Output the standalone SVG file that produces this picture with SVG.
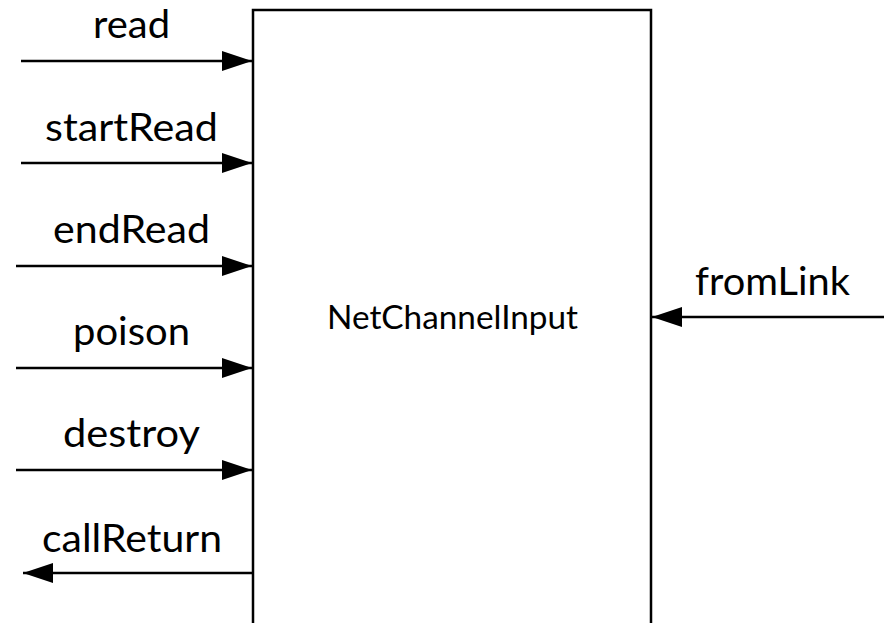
<svg xmlns="http://www.w3.org/2000/svg" width="889" height="623" viewBox="0 0 889 623">
  <defs>
    <marker id="arrow" viewBox="0 0 30 20" refX="30" refY="10" markerWidth="30" markerHeight="20" markerUnits="userSpaceOnUse" orient="auto">
      <path d="M0,0 L30,10 L0,20 Z" fill="#000"/>
    </marker>
  </defs>
  <style>
    .lbl { font-family: Lato, "Open Sans", sans-serif; font-size: 39px; fill: #000; }
    .name { font-family: Lato, "Open Sans", sans-serif; font-size: 32px; fill: #000; }
    .wire { stroke: #000; stroke-width: 2.5; fill: none; marker-end: url(#arrow); }
  </style>
  <rect width="889" height="623" fill="#fff"/>

  <!-- the channel component -->
  <g id="net-channel-input">
    <path d="M253,625 L253,10 L651,10 L651,625" fill="none" stroke="#000" stroke-width="2.5"/>
    <text class="name" x="327" y="329" textLength="251" lengthAdjust="spacingAndGlyphs">NetChannelInput</text>
  </g>

  <!-- port labels -->
  <g id="port-read"><text class="lbl" x="93" y="38" textLength="77" lengthAdjust="spacingAndGlyphs">read</text></g>
  <g id="port-startRead"><text class="lbl" x="45" y="141" textLength="173" lengthAdjust="spacingAndGlyphs">startRead</text></g>
  <g id="port-endRead"><text class="lbl" x="53" y="243" textLength="157" lengthAdjust="spacingAndGlyphs">endRead</text></g>
  <g id="port-poison"><text class="lbl" x="73" y="345" textLength="117" lengthAdjust="spacingAndGlyphs">poison</text></g>
  <g id="port-destroy"><text class="lbl" x="63" y="447" textLength="137" lengthAdjust="spacingAndGlyphs">destroy</text></g>
  <g id="port-callReturn"><text class="lbl" x="42" y="552" textLength="180" lengthAdjust="spacingAndGlyphs">callReturn</text></g>
  <g id="port-fromLink"><text class="lbl" x="695" y="295" textLength="155" lengthAdjust="spacingAndGlyphs">fromLink</text></g>

  <!-- signal wires -->
  <g id="connectors">
    <line class="wire" x1="21" y1="61" x2="252" y2="61"/>
    <line class="wire" x1="21" y1="163" x2="252" y2="163"/>
    <line class="wire" x1="16" y1="266" x2="252" y2="266"/>
    <line class="wire" x1="16" y1="368" x2="252" y2="368"/>
    <line class="wire" x1="16" y1="470" x2="252" y2="470"/>
    <line class="wire" x1="253" y1="573" x2="23" y2="573"/>
    <line class="wire" x1="884" y1="317" x2="652" y2="317"/>
  </g>
</svg>
